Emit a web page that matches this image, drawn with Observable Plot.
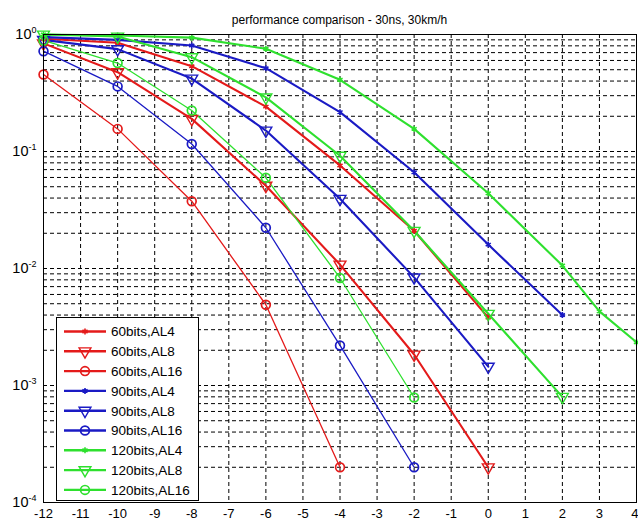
<!DOCTYPE html>
<html><head><meta charset="utf-8">
<script src="https://cdn.jsdelivr.net/npm/d3@7"></script>
<script src="https://cdn.jsdelivr.net/npm/@observablehq/plot@0.6"></script>
<style>
body{margin:0;background:#fff;font-family:"Liberation Sans",Arial,sans-serif;}
#wrap{position:relative;width:638px;height:521px;overflow:hidden;}
#title{position:absolute;top:13px;left:43px;width:593px;text-align:center;font-size:12px;line-height:14px;color:#000;}
#legend{position:absolute;left:56px;top:317px;width:143px;height:184px;border:1px solid #000;background:#fff;box-sizing:border-box;}
svg{overflow:visible;}
</style></head><body>
<div id="wrap"><div id="chart"></div><div id="title">performance comparison - 30ns, 30km/h</div><div id="legend"></div></div>
<script>
// ---- data ----
const xTicks = [-12,-11,-10,-9,-8,-7,-6,-5,-4,-3,-2,-1,0,1,2,3,4];
const yTicks = [1, 0.1, 0.01, 0.001, 0.0001];

const x60AL4  = [-12,-10,-8,-6,-4,-2,0];
const y60AL4  = [0.92,0.85,0.536,0.242,0.076,0.021,0.0038];
const x60AL8  = [-12,-10,-8,-6,-4,-2,0];
const y60AL8  = [0.84,0.476,0.19,0.051,0.0108,0.00184,0.0002];
const x60AL16 = [-12,-10,-8,-6,-4];
const y60AL16 = [0.455,0.156,0.0376,0.0049,0.0002];

const x90AL4  = [-12,-10,-8,-6,-4,-2,0,2];
const y90AL4  = [0.95,0.9,0.805,0.515,0.217,0.0665,0.016,0.004];
const x90AL8  = [-12,-10,-8,-6,-4,-2,0];
const y90AL8  = [0.9,0.75,0.42,0.151,0.0394,0.0084,0.00145];
const x90AL16 = [-12,-10,-8,-6,-4,-2];
const y90AL16 = [0.72,0.36,0.116,0.0223,0.0022,0.0002];

const x120AL4  = [-12,-10,-8,-6,-4,-2,0,2,3,4];
const y120AL4  = [1.0,0.98,0.94,0.755,0.41,0.156,0.044,0.0106,0.0043,0.00234];
const x120AL8  = [-12,-10,-8,-6,-4,-2,0,2];
const y120AL8  = [1.0,0.96,0.64,0.29,0.092,0.021,0.0041,0.0008];
const x120AL16 = [-12,-10,-8,-6,-4,-2];
const y120AL16 = [0.89,0.57,0.224,0.0596,0.0083,0.00079];

const RED = "#e41a1a", BLUE = "#1a1ac4", GREEN = "#2ee02e";

const series = [
  {name:"60bits,AL4",  x:x60AL4,  y:y60AL4,  color:RED,   m:"star"},
  {name:"60bits,AL8",  x:x60AL8,  y:y60AL8,  color:RED,   m:"tri"},
  {name:"60bits,AL16", x:x60AL16, y:y60AL16, color:RED,   m:"circ"},
  {name:"90bits,AL4",  x:x90AL4,  y:y90AL4,  color:BLUE,  m:"star"},
  {name:"90bits,AL8",  x:x90AL8,  y:y90AL8,  color:BLUE,  m:"tri"},
  {name:"90bits,AL16", x:x90AL16, y:y90AL16, color:BLUE,  m:"circ"},
  {name:"120bits,AL4", x:x120AL4, y:y120AL4, color:GREEN, m:"star"},
  {name:"120bits,AL8", x:x120AL8, y:y120AL8, color:GREEN, m:"tri"},
  {name:"120bits,AL16",x:x120AL16,y:y120AL16,color:GREEN, m:"circ"}
];

// minor log grid values derived from the decade ticks
const yGrid = [];
for (const d of yTicks.slice(1)) for (let k = 1; k <= 9; k++) yGrid.push(d * k);
const xGrid = xTicks.slice(1, -1);

const marks = [
  Plot.ruleX(xGrid, {x: d => d, stroke: "#000", strokeWidth: 1, strokeDasharray: "4,3"}),
  Plot.ruleY(yGrid.filter(v => v > 0.0001 && v < 1), {y: d => d, stroke: "#000", strokeWidth: 1, strokeDasharray: "4,3"}),
];
function markerOpts(s) {
  if (s.m === "star") return {symbol: "asterisk", r: 2.8, stroke: s.color, strokeWidth: 1.6, fill: "none"};
  if (s.m === "tri") return {symbol: "triangle", r: 4.4, stroke: s.color, strokeWidth: 1.4, fill: "none", rotate: 180};
  return {symbol: "circle", r: 4.4, stroke: s.color, strokeWidth: 1.7, fill: "none"};
}
for (const s of series) {
  const rows = s.x.map((x, i) => ({x, y: s.y[i]}));
  marks.push(Plot.line(rows, {x: "x", y: "y", stroke: s.color, strokeWidth: s.m === "circ" ? 1.3 : 2.1}));
}
for (const s of series) {
  const rows = s.x.map((x, i) => ({x, y: s.y[i]}));
  marks.push(Plot.dot(rows, {x: "x", y: "y", ...markerOpts(s)}));
}
marks.push(Plot.frame({stroke: "#000", strokeWidth: 1}));

const chart = Plot.plot({
  width: 638, height: 521,
  marginTop: 34, marginBottom: 19, marginLeft: 43, marginRight: 2,
  style: {fontFamily: '"Liberation Sans", Arial, sans-serif', fontSize: "13px", background: "#fff", color: "#000"},
  x: {domain: [-12, 4], ticks: xTicks, tickFormat: d => String(d), tickSize: 0, tickPadding: 6, label: null},
  y: {type: "log", domain: [0.0001, 1], ticks: yTicks, tickFormat: d => String(Math.round(Math.log10(d))), tickSize: 0, tickPadding: 7, label: null},
  marks
});
document.getElementById("chart").appendChild(chart);

// keep the last x label inside the picture
const xl = d3.select(chart).selectAll('g[aria-label="x-axis tick label"] text').nodes();
if (xl.length) d3.select(xl[xl.length - 1]).attr("text-anchor", "end").attr("dx", "2");

// superscript exponents on the y tick labels
d3.select(chart).selectAll('g[aria-label="y-axis tick label"] text').each(function() {
  const e = this.textContent;
  const t = d3.select(this);
  t.text(null);
  t.append("tspan").text("10").attr("font-size", "14.5px");
  t.append("tspan").text(e).attr("font-size", "9px").attr("dy", "-6");
});

// legend
const lg = d3.select("#legend").append("svg").attr("width", 141).attr("height", 182)
  .style("position", "absolute").style("left", "0").style("top", "0");
const sym = {star: d3.symbolAsterisk, tri: d3.symbolTriangle, circ: d3.symbolCircle};
series.forEach((s, i) => {
  const cy = 13.5 + i * 19.8;
  const g = lg.append("g");
  g.append("line").attr("x1", 7).attr("x2", 49).attr("y1", cy).attr("y2", cy)
    .attr("stroke", s.color).attr("stroke-width", 2.4);
  const o = markerOpts(s);
  g.append("path").attr("d", d3.symbol(sym[s.m], Math.PI * o.r * o.r)())
    .attr("transform", `translate(28,${cy})` + (s.m === "tri" ? " rotate(180)" : ""))
    .attr("fill", "none").attr("stroke", s.color).attr("stroke-width", o.strokeWidth);
  g.append("text").attr("x", 54).attr("y", cy).attr("dy", "0.36em")
    .attr("font-size", "13.5px").attr("font-family", '"Liberation Sans", Arial, sans-serif')
    .text(s.name);
});
</script>
</body></html>
